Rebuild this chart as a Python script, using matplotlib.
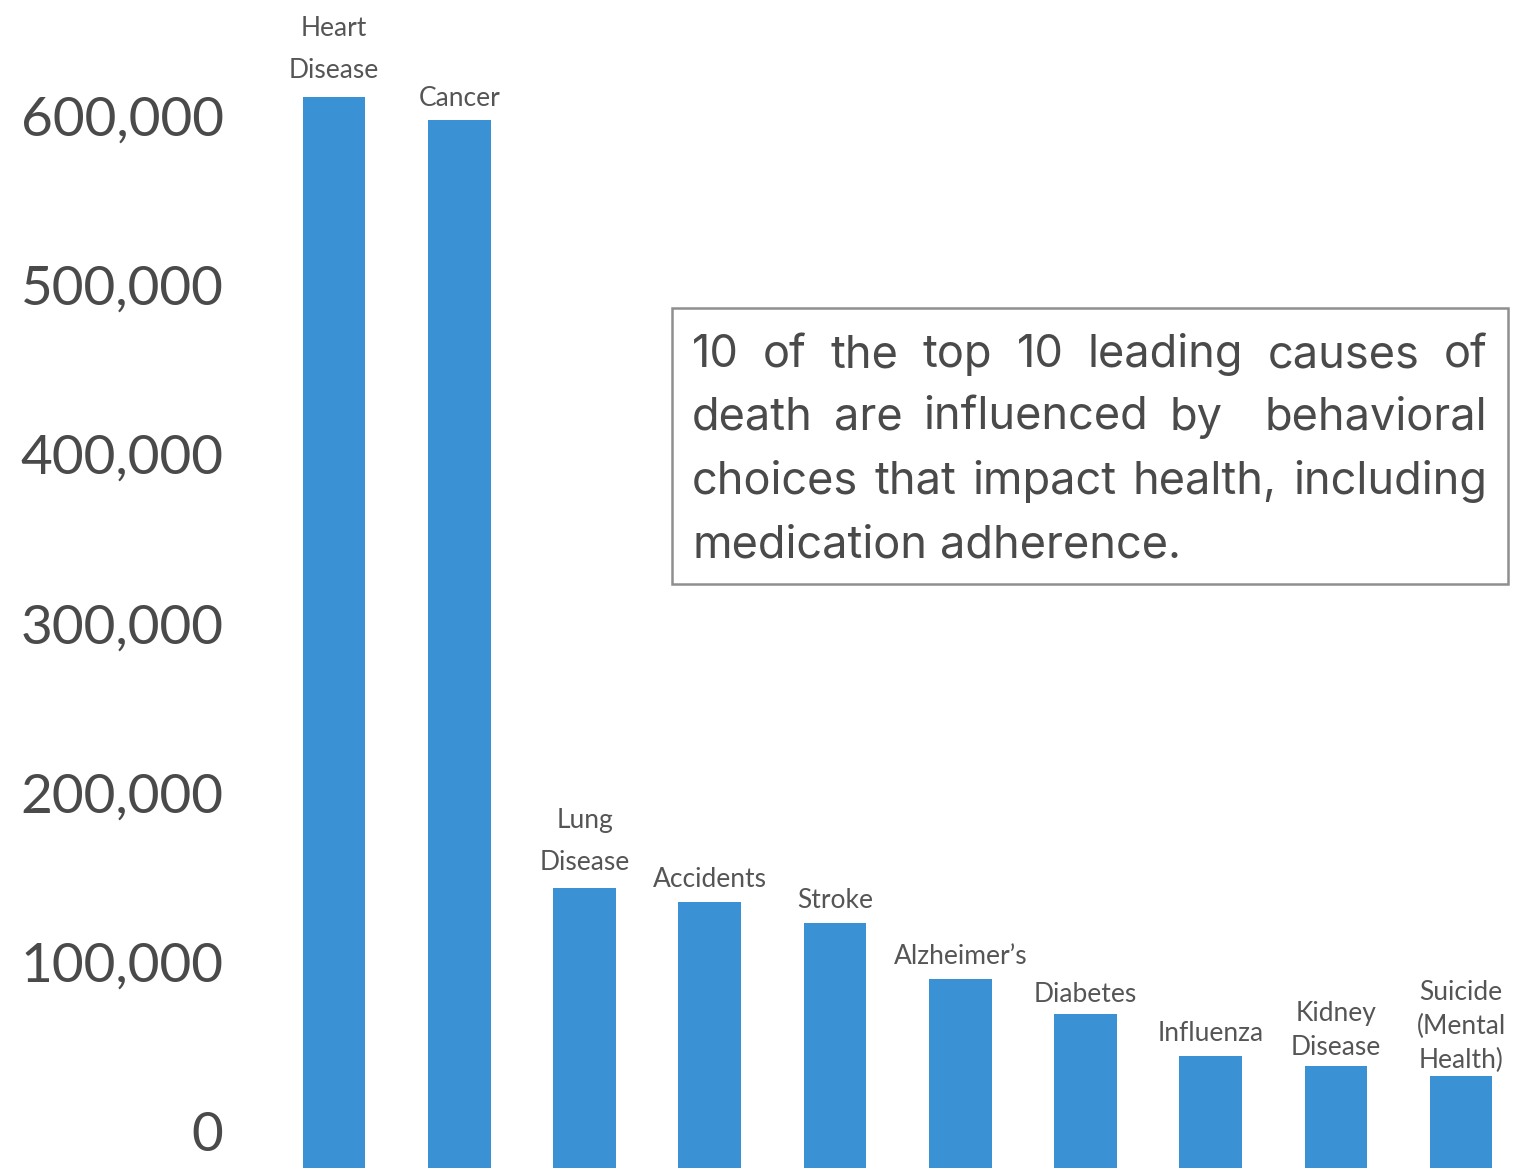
import matplotlib
matplotlib.use("Agg")
import matplotlib.pyplot as plt
from matplotlib.patches import Rectangle
from matplotlib.ticker import FuncFormatter
import numpy as np

# Leading causes of death (annual deaths)
causes = ["Heart\nDisease", "Cancer", "Lung\nDisease", "Accidents", "Stroke",
          "Alzheimer\u2019s", "Diabetes", "Influenza", "Kidney\nDisease",
          "Suicide\n(Mental\nHealth)"]
deaths = [611000, 597000, 143500, 135300, 122900, 89800, 69400, 44300, 38400, 32500]
y_ticks = [0, 100000, 200000, 300000, 400000, 500000, 600000]
note_lines = [
    "10 of the top 10 leading causes of",
    "death are influenced by  behavioral",
    "choices that impact health, including",
    "medication adherence.",
]

W, H = 1520, 1168
BAR_COLOR = "#3a92d4"
TEXT_COLOR = "#4a4a4a"
plt.rcParams["font.family"] = ["Lato", "DejaVu Sans"]

fig = plt.figure(figsize=(W / 100, H / 100), dpi=100)
ax_left = 271.5 / W
ax = fig.add_axes([ax_left, 0.0, 1.0 - ax_left, 1.0])

y_low, y_high = -21855, 668100
x = np.arange(len(causes))
vals = np.array(deaths, dtype=float)
# bars run down to the lower edge of the plotting area
ax.bar(x, vals - y_low, bottom=y_low, width=0.5, color=BAR_COLOR, linewidth=0)
ax.set_xlim(-0.5, 9.47)
ax.set_ylim(y_low, y_high)

label_spacing = [1.85, 1.0, 1.85, 1.0, 1.0, 1.0, 1.0, 1.0, 1.45, 1.45]
label_offset = [9.5, 7, 9.5, 7, 7, 7, 5, 7, 4, 2]
for i, (lab, v) in enumerate(zip(causes, deaths)):
    ax.annotate(lab, xy=(i, v), xytext=(0, label_offset[i]), textcoords="offset points",
                ha="center", va="bottom", fontsize=19, color="#555555",
                linespacing=label_spacing[i])

ax.set_yticks(y_ticks)
ax.yaxis.set_major_formatter(FuncFormatter(lambda v, p: f"{int(v):,}"))
ax.tick_params(axis="y", length=0, pad=34.5, labelsize=39.5, labelcolor=TEXT_COLOR)
ax.set_xticks([])
for s in ax.spines.values():
    s.set_visible(False)

# note box
bx0, by0, bx1, by1 = 672, 308, 1508, 584
fig.patches.append(Rectangle((bx0 / W, 1 - by1 / H), (bx1 - bx0) / W, (by1 - by0) / H,
                             transform=fig.transFigure, fill=False,
                             edgecolor="#8f8f8f", linewidth=1.8))

# justified paragraph inside the box
fig.canvas.draw()
renderer = fig.canvas.get_renderer()
note_font = ["Inter", "DejaVu Sans"]
note_size = 32.5
left_px, right_px = 692, 1487
baselines = [367, 430, 494, 558]


def text_width(s):
    t = fig.text(0, 0, s, fontsize=note_size, family=note_font)
    w = t.get_window_extent(renderer).width
    t.remove()
    return w


space_w = text_width("a a") - text_width("aa")
for li, (line, base) in enumerate(zip(note_lines, baselines)):
    words = line.split(" ")
    widths = [text_width(w) if w else 0.0 for w in words]
    if li < len(note_lines) - 1 and len(words) > 1:
        gap = (right_px - left_px - sum(widths)) / (len(words) - 1)
    else:
        gap = space_w
    xp = left_px
    for w, wd in zip(words, widths):
        if w:
            fig.text(xp / W, 1 - base / H, w, fontsize=note_size, family=note_font,
                     color=TEXT_COLOR, ha="left", va="baseline")
        xp += wd + gap

fig.savefig("out.png", dpi=100)
